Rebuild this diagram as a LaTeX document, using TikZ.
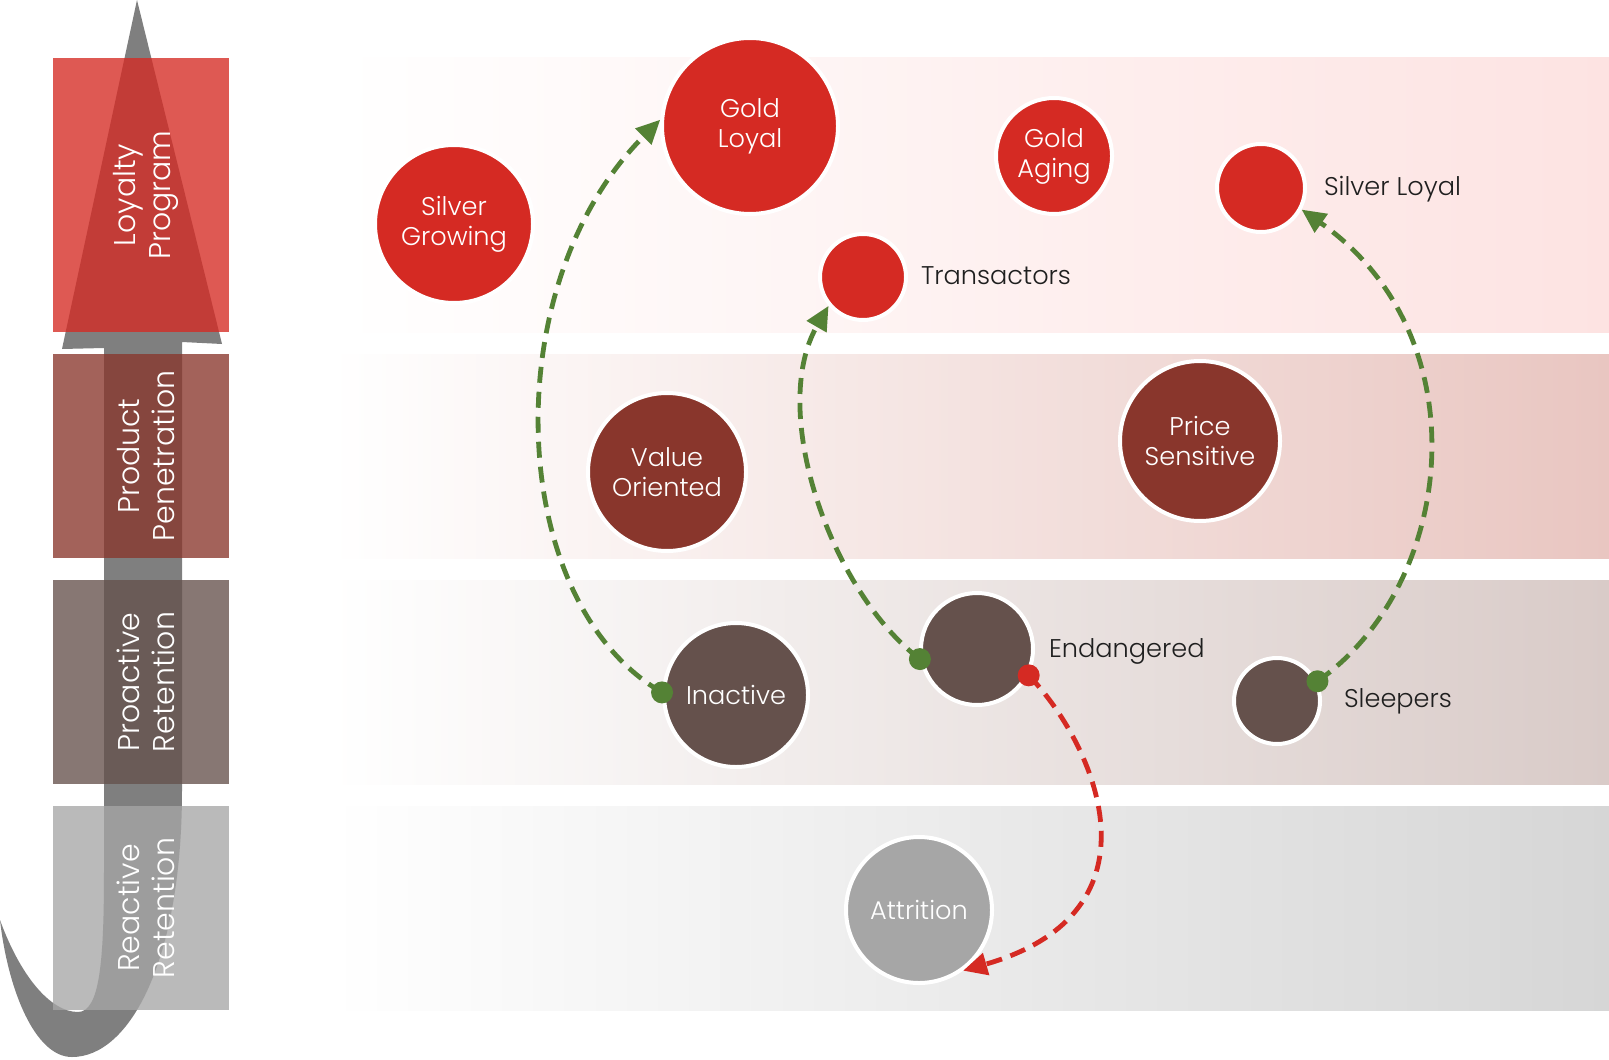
\documentclass[tikz,border=0pt]{standalone}
\usepackage{fontspec}
\IfFontExistsTF{Poppins Light}{\setmainfont{Poppins Light}}{\setmainfont{Poppins}}
\usetikzlibrary{arrows.meta}

\definecolor{segred}{HTML}{D52A23}
\definecolor{segbrown}{HTML}{89362C}
\definecolor{segtaupe}{HTML}{65514C}
\definecolor{seggray}{HTML}{A6A6A6}
\definecolor{bandred}{HTML}{FDE3E2}
\definecolor{bandbrown}{HTML}{E9C6C1}
\definecolor{bandtaupe}{HTML}{D9CBC8}
\definecolor{bandgray}{HTML}{D6D6D6}
\definecolor{arrowgray}{HTML}{7F7F7F}
\definecolor{movegreen}{HTML}{548235}

\tikzset{
  segment/.style={circle, draw=white, line width=2pt, inner sep=0pt, text=white,
    align=center, font=\fontsize{12.8}{15}\selectfont},
  tierlabel/.style={rotate=90, text=white, align=center, font=\fontsize{15}{17.5}\selectfont},
  outlabel/.style={anchor=west, text=black!88, font=\fontsize{12.8}{15}\selectfont},
  move/.style={dash pattern=on 8pt off 4.5pt, line width=2.4pt,
    -{Triangle[length=12pt,width=11pt]}},
}

\begin{document}
\begin{tikzpicture}[x=0.5pt,y=-0.5pt]
  \useasboundingbox (0,0) rectangle (1609,1059);

  % Bands behind the segments
  \shade[left color=white, right color=bandred] (340,58) rectangle (1609,332);
  \shade[left color=white, right color=bandbrown] (330,354) rectangle (1609,558);
  \shade[left color=white, right color=bandtaupe] (330,580) rectangle (1609,784);
  \shade[left color=white, right color=bandgray] (330,806) rectangle (1609,1010);

  % Swoosh arrow on the left
  \fill[arrowgray] (137,0) -- (222,344) -- (182,342) -- (182,790)
    .. controls (182,960) and (130,1057) .. (72,1057)
    .. controls (35,1057) and (8,990) .. (0,920)
    .. controls (20,975) and (50,1012) .. (78,1012)
    .. controls (100,1012) and (104,960) .. (104,870)
    -- (104,348) -- (62,349) -- cycle;

  % Tier boxes
  \fill[segred, opacity=0.78] (53,58) rectangle (229,332);
  \fill[segbrown, opacity=0.78] (53,354) rectangle (229,558);
  \fill[segtaupe, opacity=0.78] (53,580) rectangle (229,784);
  \fill[seggray, opacity=0.78] (53,806) rectangle (229,1010);
  \node[tierlabel] (loyalty) at (146,195) {Loyalty\\Program};
  \node[tierlabel] (product) at (146,456) {Product\\Penetration};
  \node[tierlabel] (proactive) at (146,682) {Proactive\\Retention};
  \node[tierlabel] (reactive) at (146,908) {Reactive\\Retention};

  % Segments
  \node[segment, fill=segred, minimum size=88pt] (gold) at (750,126) {Gold\\Loyal};
  \node[segment, fill=segred, minimum size=79pt] (silvgrow) at (454,224) {Silver\\Growing};
  \node[segment, fill=segred, minimum size=58pt] (aging) at (1054,156) {Gold\\Aging};
  \node[segment, fill=segred, minimum size=44pt] (silv) at (1261,188) {};
  \node[segment, fill=segred, minimum size=43pt] (trans) at (863,277) {};
  \node[segment, fill=segbrown, minimum size=79pt] (value) at (667,472) {Value\\Oriented};
  \node[segment, fill=segbrown, minimum size=80pt] (price) at (1200,441) {Price\\Sensitive};
  \node[segment, fill=segtaupe, minimum size=72pt] (inact) at (736,695) {Inactive};
  \node[segment, fill=segtaupe, minimum size=56pt] (endg) at (977,649) {};
  \node[segment, fill=segtaupe, minimum size=43pt] (sleep) at (1277,701) {};
  \node[segment, fill=seggray, minimum size=73pt] (attr) at (919,910) {Attrition};

  \node[outlabel] (silvlab) at (1317,189) {Silver Loyal};
  \node[outlabel] (translab) at (914,276) {Transactors};
  \node[outlabel] (endglab) at (1042,651) {Endangered};
  \node[outlabel] (sleeplab) at (1337,701) {Sleepers};

  % Moves between segments
  \draw[move, movegreen] (inact.178) .. controls +(-150:180) and +(-225:235) .. (gold.176);
  \draw[move, movegreen] (endg.190) .. controls +(-143:110) and +(120:122) .. (trans.220);
  \draw[move, movegreen] (sleep.26) .. controls +(-35:170) and +(-325:220) .. (silv.-28);
  \draw[move, segred] (endg.-27) .. controls +(46:95) and +(-16:215) .. (attr.-54);
  \fill[movegreen] (inact.178) circle (5.5pt);
  \fill[movegreen] (endg.190) circle (5.5pt);
  \fill[movegreen] (sleep.26) circle (5.5pt);
  \fill[segred] (endg.-27) circle (5.5pt);
\end{tikzpicture}
\end{document}
